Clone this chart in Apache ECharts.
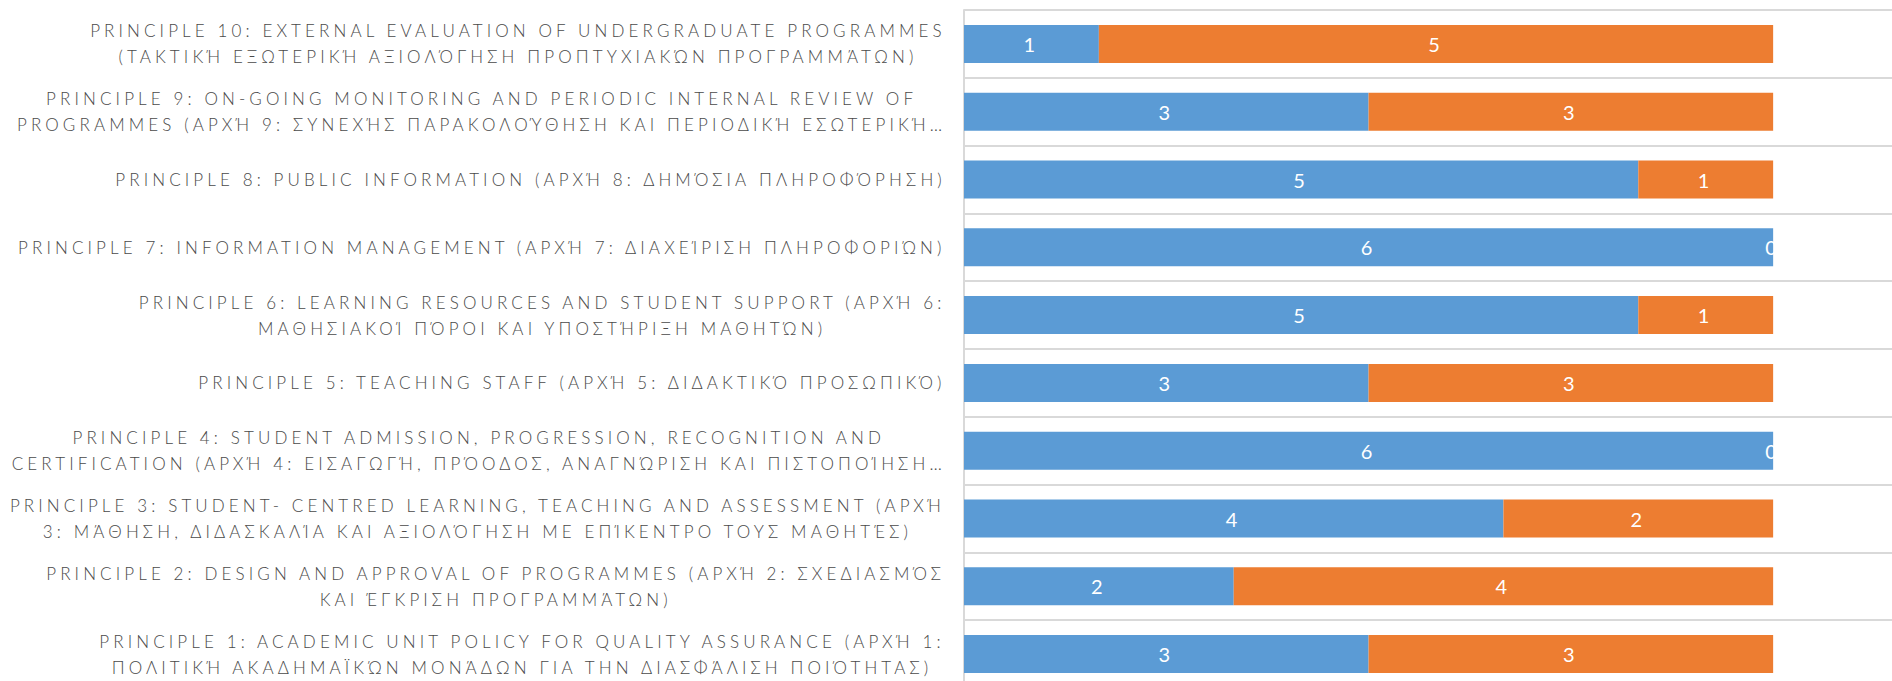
<!DOCTYPE html>
<html><head><meta charset="utf-8">
<script src="https://cdn.jsdelivr.net/npm/echarts@6/dist/echarts.min.js"></script>
<style>html,body{margin:0;padding:0;background:#fff}#chart{width:1892px;height:681px}</style>
<style id="ls"></style>
</head><body><div id="chart"></div>
<script>
// Categories, bottom (Principle 1) to top (Principle 10)
const categories = [
  "PRINCIPLE 1: ACADEMIC UNIT POLICY FOR QUALITY ASSURANCE (ΑΡΧΉ 1:\nΠΟΛΙΤΙΚΉ ΑΚΑΔΗΜΑΪΚΏΝ ΜΟΝΆΔΩΝ ΓΙΑ ΤΗΝ ΔΙΑΣΦΆΛΙΣΗ ΠΟΙΌΤΗΤΑΣ)",
  "PRINCIPLE 2: DESIGN AND APPROVAL OF PROGRAMMES (ΑΡΧΉ 2: ΣΧΕΔΙΑΣΜΌΣ\nΚΑΙ ΈΓΚΡΙΣΗ ΠΡΟΓΡΑΜΜΆΤΩΝ)",
  "PRINCIPLE 3: STUDENT- CENTRED LEARNING, TEACHING AND ASSESSMENT (ΑΡΧΉ\n3: ΜΆΘΗΣΗ, ΔΙΔΑΣΚΑΛΊΑ ΚΑΙ ΑΞΙΟΛΌΓΗΣΗ ΜΕ ΕΠΊΚΕΝΤΡΟ ΤΟΥΣ ΜΑΘΗΤΈΣ)",
  "PRINCIPLE 4: STUDENT ADMISSION, PROGRESSION, RECOGNITION AND\nCERTIFICATION (ΑΡΧΉ 4: ΕΙΣΑΓΩΓΉ, ΠΡΌΟΔΟΣ, ΑΝΑΓΝΏΡΙΣΗ ΚΑΙ ΠΙΣΤΟΠΟΊΗΣΗ…",
  "PRINCIPLE 5: TEACHING STAFF (ΑΡΧΉ 5: ΔΙΔΑΚΤΙΚΌ ΠΡΟΣΩΠΙΚΌ)",
  "PRINCIPLE 6: LEARNING RESOURCES AND STUDENT SUPPORT (ΑΡΧΉ 6:\nΜΑΘΗΣΙΑΚΟΊ ΠΌΡΟΙ ΚΑΙ ΥΠΟΣΤΉΡΙΞΗ ΜΑΘΗΤΏΝ)",
  "PRINCIPLE 7: INFORMATION MANAGEMENT (ΑΡΧΉ 7: ΔΙΑΧΕΊΡΙΣΗ ΠΛΗΡΟΦΟΡΙΏΝ)",
  "PRINCIPLE 8: PUBLIC INFORMATION (ΑΡΧΉ 8: ΔΗΜΌΣΙΑ ΠΛΗΡΟΦΌΡΗΣΗ)",
  "PRINCIPLE 9: ON-GOING MONITORING AND PERIODIC INTERNAL REVIEW OF\nPROGRAMMES (ΑΡΧΉ 9: ΣΥΝΕΧΉΣ ΠΑΡΑΚΟΛΟΎΘΗΣΗ ΚΑΙ ΠΕΡΙΟΔΙΚΉ ΕΣΩΤΕΡΙΚΉ…",
  "PRINCIPLE 10: EXTERNAL EVALUATION OF UNDERGRADUATE PROGRAMMES\n(ΤΑΚΤΙΚΉ ΕΞΩΤΕΡΙΚΉ ΑΞΙΟΛΌΓΗΣΗ ΠΡΟΠΤΥΧΙΑΚΏΝ ΠΡΟΓΡΑΜΜΆΤΩΝ)"
];
const blueValues   = [3, 2, 4, 6, 3, 5, 6, 5, 3, 1];
const orangeValues = [3, 4, 2, 0, 3, 1, 0, 1, 3, 5];

const FONT = 'Lato';
const LABEL_SIZE = 17;
const LABEL_WEIGHT = 300;
const mctx = document.createElement('canvas').getContext('2d');
function rawWidth(text, font) { mctx.font = font; return mctx.measureText(text).width; }
// calibrate letter spacing so that a mixed-script single-line label spans ~827px
const refText = categories[7];
const w0 = rawWidth(refText, LABEL_WEIGHT + ' ' + LABEL_SIZE + 'px ' + FONT);
const LS = Math.max(0, (827 - w0) / (Array.from(refText).length - 1));
document.getElementById('ls').textContent = '#chart text{letter-spacing:' + LS.toFixed(3) + 'px}';
echarts.setPlatformAPI({
  measureText: function (text, font) {
    return { width: rawWidth(text, font || '12px sans-serif') + LS * Array.from(text).length };
  }
});

const chart = echarts.init(document.getElementById('chart'), null, { renderer: 'svg' });
const gridColor = '#d9d9d9';
const valueLabel = { show: true, position: 'inside', color: '#ffffff', fontSize: 20, fontFamily: FONT, fontWeight: 400, textBorderWidth: 0 };
chart.setOption({
  animation: false,
  backgroundColor: '#ffffff',
  grid: { left: 964, top: 10, width: 944, height: 678, containLabel: false, outerBoundsMode: 'none' },
  xAxis: {
    type: 'value', min: 0, max: 7,
    axisLabel: { show: false }, axisLine: { show: false }, axisTick: { show: false },
    splitLine: { show: false }
  },
  yAxis: {
    type: 'category', data: categories,
    axisLine: { show: true, lineStyle: { color: gridColor, width: 2 } },
    axisTick: { show: false },
    splitLine: { show: true, lineStyle: { color: gridColor, width: 2 } },
    axisLabel: {
      interval: 0,
      align: 'right',
      margin: 22 - LS,
      formatter: function (v) { return v.split('\n').map(function (l) { return '{c|' + l + '}'; }).join('\n'); },
      rich: { c: { align: 'center', fontSize: LABEL_SIZE, fontFamily: FONT, fontWeight: LABEL_WEIGHT, color: '#4a4a4a', lineHeight: 26 } }
    }
  },
  series: [
    {
      name: 'A', type: 'bar', stack: 'total', data: blueValues, barCategoryGap: '44%',
      itemStyle: { color: '#5B9BD5' }, label: valueLabel
    },
    {
      name: 'B', type: 'bar', stack: 'total', data: orangeValues, barCategoryGap: '44%',
      itemStyle: { color: '#ED7D31' }, label: valueLabel
    }
  ]
});
</script>
</body></html>
